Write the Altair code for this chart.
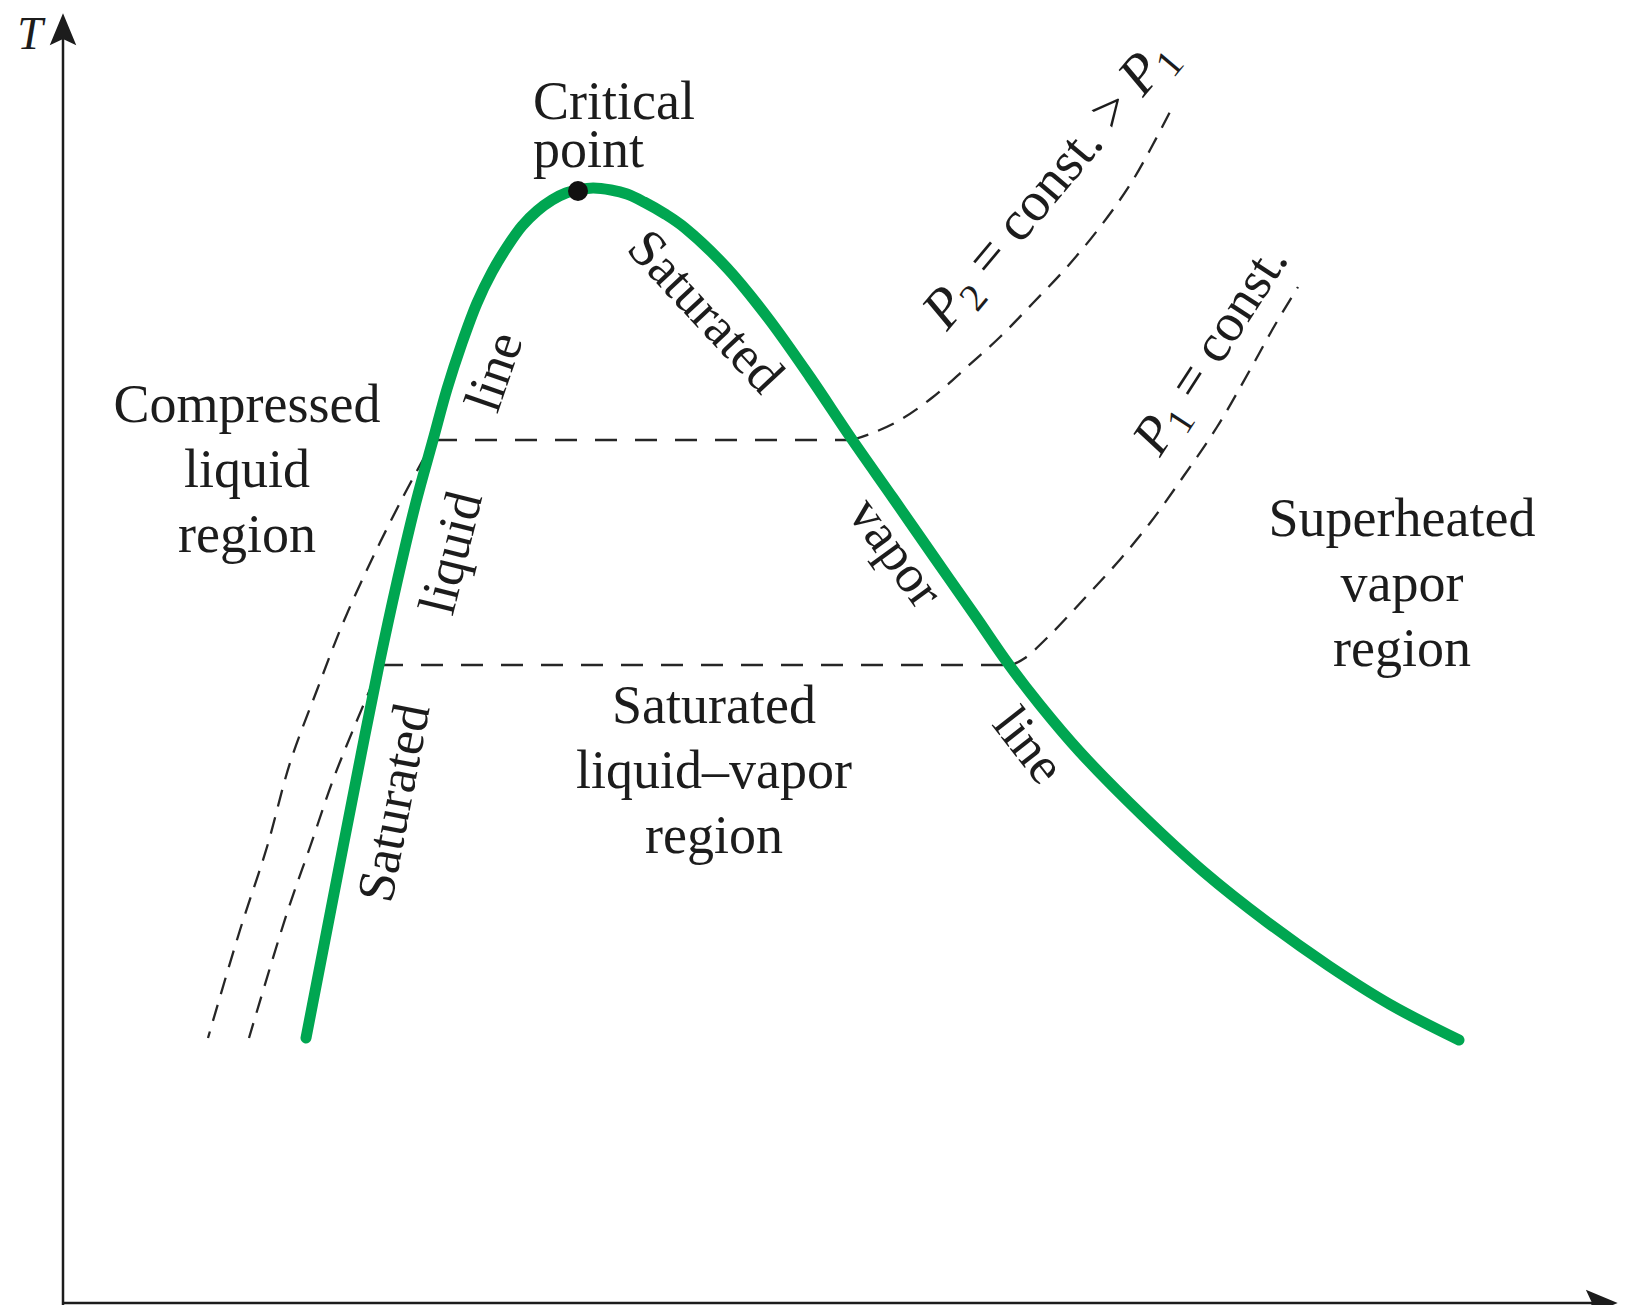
import altair as alt
import pandas as pd

# ---- data (v, T in arbitrary diagram units) ----
# saturated liquid line -> critical point -> saturated vapor line
dome_v = [243, 262, 280, 298, 316, 334, 353, 370, 384, 399, 414, 429, 444, 459, 474,
          489, 503, 515, 530, 548, 564, 581, 602, 622, 664, 705, 747, 788, 830, 871,
          913, 944, 977, 1017, 1079, 1141, 1204, 1266, 1328, 1396]
dome_T = [265, 363, 456, 548, 638, 721, 801, 863, 914, 960, 1000, 1031, 1056, 1077, 1092,
          1103, 1110, 1113, 1115, 1113, 1109, 1101, 1089, 1075, 1035, 985, 926, 865, 805, 746,
          686, 641, 598, 551, 488, 431, 381, 337, 298, 263]

crit_v = [515]
crit_T = [1112]

# isobars
p2_sup_v = [789, 807, 837, 870, 904, 937, 970, 1004, 1037, 1070, 1109]
p2_sup_T = [863, 869, 883, 906, 936, 966, 1000, 1036, 1076, 1123, 1195]
p1_sup_v = [949, 962, 987, 1020, 1054, 1087, 1120, 1154, 1187, 1212, 1235]
p1_sup_T = [638, 645, 668, 703, 740, 780, 826, 876, 933, 978, 1016]
p2_cmp_v = [362, 340, 310, 280, 254, 227, 204, 177, 145]
p2_cmp_T = [847, 806, 746, 680, 613, 540, 456, 373, 265]
p1_cmp_v = [311, 290, 270, 247, 224, 186]
p1_cmp_T = [623, 573, 523, 456, 390, 265]
p2_mix_v = [372, 789]
p2_mix_T = [863, 863]
p1_mix_v = [318, 949]
p1_mix_T = [638, 638]

# axes
axis_v = [0, -1]
axis_T = [-5, 0]
axis_v2 = [0, 1545]
axis_T2 = [1265, 0]
arrow_v = [0, 1537]
arrow_T = [1272, 0]
arrow_angle = [0, 90]

# labels
region_text = ["Compressed", "liquid", "region",
               "Superheated", "vapor", "region",
               "Saturated", "liquid\u2013vapor", "region"]
region_v = [184, 184, 184, 1339, 1339, 1339, 651, 651, 651]
region_T = [881, 816, 751, 767, 702, 637, 580, 515, 450]

crit_text = ["Critical\npoint"]
crit_lab_v = [470]
crit_lab_T = [1184]

rot_text = ["Saturated", "liquid", "line", "Saturated", "vapor", "line"]
rot_v = [332, 389, 432, 642, 832, 965]
rot_T = [500, 750, 931, 991, 750, 557]
rot_angle = [281, 284, 289, 47, 54, 52]

# isobar labels, split into pieces (italic P, subscripts, upright rest)
pit_text = ["P", "P", "P"]
pit_v = [884, 1080, 1097]
pit_T = [971, 1205, 845]
pit_size = [56, 56, 54]
pit_angle = [310, 310, 303]

pup_text = ["2", "= const. >", "1", "1", "= const."]
pup_v = [914, 928, 1110, 1123, 1133]
pup_T = [990, 1023, 1224, 867, 900]
pup_size = [39, 56, 39, 38, 54]
pup_angle = [310, 310, 310, 303, 303]

T_text = ["T"]
T_v = [-33]
T_T = [1254]

# ---- tables ----
def series(name, vs, ts):
    return pd.DataFrame({"v": vs, "T": ts, "s": name, "o": list(range(len(vs)))})

dome = series("dome", dome_v, dome_T)
curves = pd.concat([
    series("p2s", p2_sup_v, p2_sup_T),
    series("p1s", p1_sup_v, p1_sup_T),
    series("p2c", p2_cmp_v, p2_cmp_T),
    series("p1c", p1_cmp_v, p1_cmp_T),
])
mix = pd.concat([series("p2m", p2_mix_v, p2_mix_T), series("p1m", p1_mix_v, p1_mix_T)])
crit = pd.DataFrame({"v": crit_v, "T": crit_T})
axes = pd.DataFrame({"v": axis_v, "T": axis_T, "v2": axis_v2, "T2": axis_T2})
arrows = pd.DataFrame({"v": arrow_v, "T": arrow_T, "a": arrow_angle})
regions = pd.DataFrame({"t": region_text, "v": region_v, "T": region_T})
critlab = pd.DataFrame({"t": crit_text, "v": crit_lab_v, "T": crit_lab_T})
rot = pd.DataFrame({"t": rot_text, "v": rot_v, "T": rot_T, "a": rot_angle})
pit = pd.DataFrame({"t": pit_text, "v": pit_v, "T": pit_T, "fs": pit_size, "a": pit_angle})
pup = pd.DataFrame({"t": pup_text, "v": pup_v, "T": pup_T, "fs": pup_size, "a": pup_angle})
tlab = pd.DataFrame({"t": T_text, "v": T_v, "T": T_T})

X = alt.X("v:Q", scale=alt.Scale(domain=[-55, 1557], nice=False, zero=False), axis=None)
Y = alt.Y("T:Q", scale=alt.Scale(domain=[-2, 1295], nice=False, zero=False), axis=None)

FONT = "Liberation Serif"
INK = "#1c1c1c"

dashed = alt.Chart(curves).mark_line(
    interpolate="catmull-rom", strokeDash=[17, 11], strokeWidth=2.3, color="#262626"
).encode(x=X, y=Y, detail="s:N", order="o:Q")

mixed = alt.Chart(mix).mark_line(
    strokeDash=[22, 18], strokeWidth=2.5, color="#262626"
).encode(x=X, y=Y, detail="s:N", order="o:Q")

green = alt.Chart(dome).mark_line(
    interpolate="catmull-rom", strokeWidth=11, color="#00a651", strokeCap="round"
).encode(x=X, y=Y, order="o:Q")

critpt = alt.Chart(crit).mark_point(
    shape="circle", filled=True, size=400, color="#111111", opacity=1
).encode(x=X, y=Y)

axis_lines = alt.Chart(axes).mark_rule(strokeWidth=2.5, color=INK).encode(
    x=X, y=Y, x2="v2:Q", y2="T2:Q"
)

heads = alt.Chart(arrows).mark_point(
    shape="M0,-1 L0.75,0.8 L0,0.45 L-0.75,0.8 Z", filled=True, size=1250,
    color=INK, opacity=1
).encode(x=X, y=Y, angle=alt.Angle("a:Q", scale=None))

region_txt = alt.Chart(regions).mark_text(
    font=FONT, fontSize=54, align="center", baseline="alphabetic", color=INK
).encode(x=X, y=Y, text="t:N")

crit_txt = alt.Chart(critlab).mark_text(
    font=FONT, fontSize=54, align="left", baseline="alphabetic", color=INK,
    lineBreak="\n", lineHeight=48
).encode(x=X, y=Y, text="t:N")

rot_txt = alt.Chart(rot).mark_text(
    font=FONT, fontSize=53, align="center", baseline="middle", color=INK
).encode(x=X, y=Y, text="t:N", angle=alt.Angle("a:Q", scale=None))

pit_txt = alt.Chart(pit).mark_text(
    font=FONT, fontStyle="italic", align="left", baseline="alphabetic", color=INK
).encode(x=X, y=Y, text="t:N", size=alt.Size("fs:Q", scale=None),
         angle=alt.Angle("a:Q", scale=None))

pup_txt = alt.Chart(pup).mark_text(
    font=FONT, align="left", baseline="alphabetic", color=INK
).encode(x=X, y=Y, text="t:N", size=alt.Size("fs:Q", scale=None),
         angle=alt.Angle("a:Q", scale=None))

t_txt = alt.Chart(tlab).mark_text(
    font=FONT, fontSize=46, fontStyle="italic", align="center", baseline="alphabetic", color=INK
).encode(x=X, y=Y, text="t:N")

chart = alt.layer(
    dashed, mixed, green, critpt, axis_lines, heads,
    region_txt, crit_txt, rot_txt, pit_txt, pup_txt, t_txt
).properties(
    width=1612, height=1297,
    autosize=alt.AutoSizeParams(type="none"),
    padding=0,
    background="white",
).configure_view(stroke=None)

chart.save("out.html", embed_options={"renderer": "svg", "actions": False})
